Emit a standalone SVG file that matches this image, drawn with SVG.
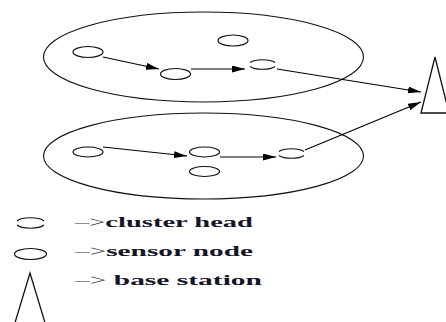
<svg xmlns="http://www.w3.org/2000/svg" width="446" height="322" viewBox="0 0 446 322">
  <defs>
    <marker id="arrow" viewBox="0 0 13 7" refX="13" refY="3.5" markerWidth="13" markerHeight="7" markerUnits="userSpaceOnUse" orient="auto">
      <path d="M0,0 L13,3.5 L0,7 Z" fill="#000"/>
    </marker>
  </defs>
  <style>
    .cluster { fill: none; stroke: #111; stroke-width: 1.1; }
    .node { fill: #fff; stroke: #111; stroke-width: 1.2; }
    .head { fill: none; stroke: #111; stroke-width: 1.1; }
    .link { fill: none; stroke: #000; stroke-width: 1.1; marker-end: url(#arrow); }
    .tower { fill: none; stroke: #111; stroke-width: 1.3; }
    .legend { font-family: "Liberation Serif", "Times New Roman", serif; font-size: 14px; font-weight: bold; fill: #15152a; }
    .dash { font-weight: normal; fill: #333; }
  </style>

  <!-- cluster regions -->
  <g id="cluster-top"><ellipse class="cluster" cx="203.5" cy="57" rx="160" ry="45"/></g>
  <g id="cluster-bottom"><ellipse class="cluster" cx="203.5" cy="156" rx="160" ry="43"/></g>

  <!-- connectors -->
  <g id="connectors">
    <line class="link" x1="103" y1="57" x2="159" y2="69"/>
    <line class="link" x1="191" y1="69" x2="245" y2="69"/>
    <line class="link" x1="277" y1="69" x2="421" y2="92"/>
    <line class="link" x1="103" y1="147" x2="187" y2="156"/>
    <line class="link" x1="220" y1="157" x2="276" y2="157"/>
    <line class="link" x1="305" y1="150" x2="421" y2="102"/>
  </g>

  <!-- sensor nodes, top cluster -->
  <g id="n1"><ellipse class="node" cx="88" cy="52" rx="15" ry="5.5"/></g>
  <g id="n2"><ellipse class="node" cx="233" cy="40.5" rx="15" ry="5.5"/></g>
  <g id="n3"><ellipse class="node" cx="175.5" cy="74" rx="15" ry="5.5"/></g>
  <!-- cluster head, top cluster -->
  <g id="ch1">
    <path class="head" d="M250,62.5 A14,5 0 0 1 275,62.5"/>
    <path class="head" d="M250,66.5 A14,5 0 0 0 275,66.5"/>
  </g>

  <!-- sensor nodes, bottom cluster -->
  <g id="n4"><ellipse class="node" cx="88" cy="152" rx="15" ry="5"/></g>
  <g id="n5"><ellipse class="node" cx="204.5" cy="152" rx="15" ry="5"/></g>
  <g id="n6"><ellipse class="node" cx="204.5" cy="171.5" rx="15" ry="5"/></g>
  <!-- cluster head, bottom cluster -->
  <g id="ch2">
    <path class="head" d="M279,151.5 A14,5 0 0 1 304,151.5"/>
    <path class="head" d="M279,155.5 A14,5 0 0 0 304,155.5"/>
  </g>

  <!-- base station -->
  <g id="base-station">
    <path class="tower" d="M421,113 L435,57 L449,113 Z"/>
  </g>

  <!-- legend -->
  <g id="legend-head">
    <path class="head" d="M17,221 A14.5,5 0 0 1 44,221"/>
    <path class="head" d="M17,225 A14.5,5 0 0 0 44,225"/>
  </g>
  <g id="legend-node"><ellipse class="node" cx="30.5" cy="254" rx="16" ry="5.5"/></g>
  <g id="legend-base"><path class="tower" d="M14,326 L30,273 L46,326"/></g>

  <g id="legend-text">
    <text class="legend" x="75" y="227" textLength="178" lengthAdjust="spacingAndGlyphs"><tspan class="dash">–&gt;</tspan>cluster head</text>
    <text class="legend" x="75" y="256" textLength="178" lengthAdjust="spacingAndGlyphs"><tspan class="dash">–&gt;</tspan>sensor node</text>
    <text class="legend" x="75" y="285" textLength="187" lengthAdjust="spacingAndGlyphs"><tspan class="dash">–&gt;</tspan> base station</text>
  </g>
</svg>
